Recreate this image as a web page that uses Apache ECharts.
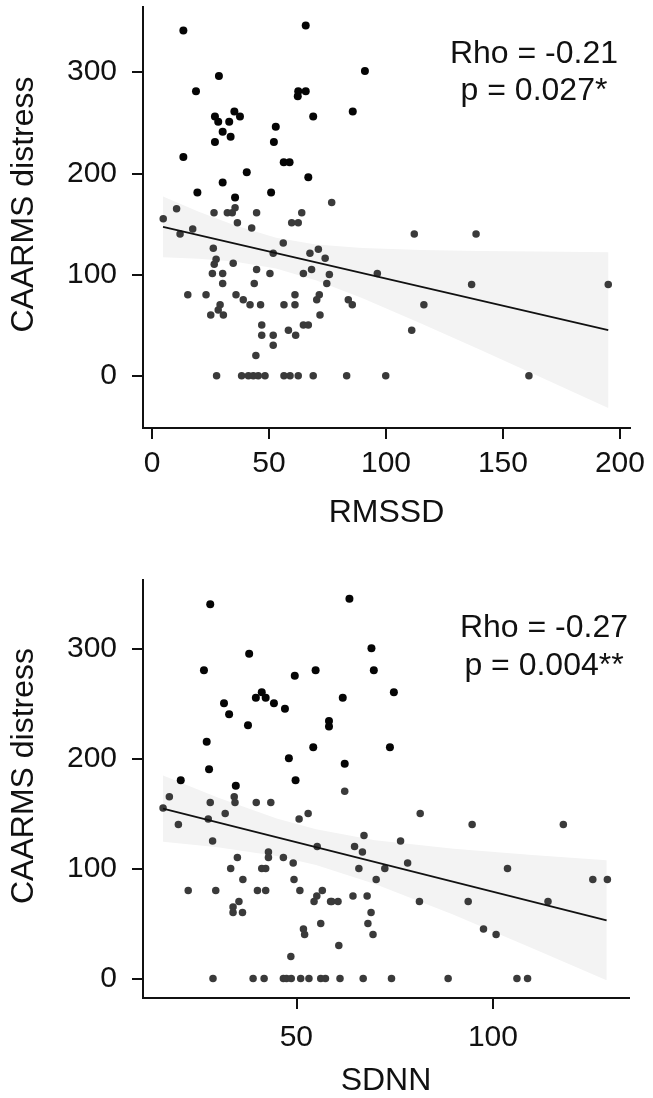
<!DOCTYPE html>
<html><head><meta charset="utf-8">
<script src="https://cdn.jsdelivr.net/npm/echarts@6/dist/echarts.min.js"></script>
<style>html,body{margin:0;padding:0;background:#fff}#c{width:653px;height:1098px}</style>
</head><body><div id="c"></div>
<script>
// ---- data ----
const rmssdPoints = [
  [13.4,341],[65.7,346],[28.6,296],[18.8,281],[62.3,276],[62.5,281],[65.7,281],[68.9,256],[26.9,256],
  [28.3,251],[33,251],[35.2,261],[37.6,256],[30.2,241],[33.6,236],[26.9,231],[52.9,246],[52.1,231],
  [13.4,216],[56.3,211],[58.8,211],[40.5,201],[66.8,196],[30.2,191],[19.4,181],[50.9,181],[91,301],
  [85.8,261],[35.5,176],
  [76.8,171],[10.5,165],[26.5,161],[32.2,161],[34.3,161],[35.5,166],[44.7,161],[64,161],[4.8,155],
  [12,140],[17.4,145],[36.5,151],[42.6,146],[59.7,151],[62.5,151],[56.1,131],[51.8,121],[26.2,126],
  [27.4,115],[26.6,110],[25.8,101],[30.2,101],[30.2,91],[34.7,111],[44.7,105],[50.4,101],[43.7,91],
  [67.5,121],[71.1,125],[74,116],[64.7,101],[68.2,105],[75.8,100],[74.7,91],[15.3,80],[23.1,80],
  [35.9,80],[39,75],[41.9,70],[46.4,70],[29.1,70],[28.3,65],[25.1,60],[30.5,60],[46.9,50],[46.9,40],
  [51.8,40],[51.8,30],[44.4,20],[56.4,70],[61.1,80],[61.1,70],[58.3,45],[61.4,40],[64.7,50],[66.8,50],
  [71.5,80],[70.4,75],[71.8,60],
  [27.6,0],[38.3,0],[41.2,0],[43.3,0],[45.4,0],[48.3,0],[56.4,0],[59,0],[62.5,0],[68.9,0],[83.2,0],
  [99.9,0],[161.1,0],
  [112.1,140],[138.5,140],[96.3,101],[83.9,75],[85.6,70],[116.2,70],[111,45],[136.6,90],[195,90]
];
const sdnnPoints = [
  [28.1,340],[38,295],[26.5,280],[54.9,280],[49.6,275],[41.2,260],[39.7,255],[42.2,255],[44.3,250],
  [47.1,245],[31.6,250],[32.9,240],[37.7,230],[58.3,234],[58.3,229],[27.2,215],[54.3,210],[48.1,200],
  [27.8,190],[63.5,345],[69.1,300],[69.7,280],[74.8,260],[61.8,255],[73.8,210],[62.3,195],
  [20.6,180],[49.8,180],[17.7,165],[34.6,175],[34.2,165],[34.4,160],[28.1,160],[39.8,160],[43.5,160],
  [16.1,155],[31.9,150],[27.6,145],[53,150],[50.7,145],[20,140],[28.7,125],[55.3,120],[42.9,115],
  [42.9,110],[35,110],[46.7,110],[49.2,105],[33.3,100],[41.2,100],[42.2,100],[36.4,90],[49.4,90],
  [22.5,80],[29.5,80],[40.1,80],[42.2,80],[50.9,80],[56.6,80],[55.2,75],[54.5,70],[58.7,70],[35.4,70],
  [33.9,65],[33.9,60],[36.3,60],[56.2,50],[51.8,45],[52.1,40],[48.6,20],
  [28.8,0],[39,0],[41.8,0],[46.7,0],[47.5,0],[48.7,0],[51.1,0],[53.2,0],[56.2,0],[57.4,0],[61.1,0],
  [67,0],[74.2,0],[88.6,0],[106.1,0],[108.8,0],
  [62.3,170],[81.5,150],[94.7,140],[117.9,140],[67.2,130],[64.8,120],[66.8,115],[76.5,125],[65.9,100],
  [72.5,100],[78.3,105],[103.7,100],[70.3,90],[125.4,90],[129.1,90],[59,70],[60.6,70],[64.4,75],
  [68,75],[81.3,70],[93.7,70],[114,70],[69,60],[68.2,50],[69.5,40],[97.6,45],[100.8,40],[60.8,30]
];
const rmssdFitX = [4.7, 195];
const rmssdFitY = [147, 45];
const rmssdBandX = [4.7, 20, 35, 53, 70, 90, 115, 140, 165, 195];
const rmssdBandLow = [117, 115.5, 112.8, 105.9, 94.4, 76.5, 51.6, 25.8, -0.4, -32];
const rmssdBandHigh = [177, 162.1, 148.8, 136.3, 129.6, 126.1, 124.2, 123.2, 122.6, 122];
const sdnnFitX = [16.1, 128.9];
const sdnnFitY = [154.3, 52.9];
const sdnnBandX = [16.1, 30, 45, 55, 70, 90, 110, 128.9];
const sdnnBandLow = [124.3, 119.2, 111.3, 103.1, 85.9, 57.9, 27.6, -1.6];
const sdnnBandHigh = [184.3, 164.4, 145.3, 135.5, 125.7, 117.9, 112.2, 107.4];
const rmssdTicks = [0, 50, 100, 150, 200];
const sdnnTicks = [50, 100];
const distressTicks = [0, 100, 200, 300];
const xNames = ['RMSSD', 'SDNN'];
const yName = 'CAARMS distress';
const annotations = [['Rho = -0.21', 'p = 0.027*'], ['Rho = -0.27', 'p = 0.004**']];

// ---- chart ----
const FONT = "'Liberation Sans', Arial, Helvetica, sans-serif";
const INK = '#111';
const chart = echarts.init(document.getElementById('c'), null, {renderer: 'canvas'});

function xAxis(idx, min, max, ticks, name, margin, gap) {
  return {
    type: 'value', gridIndex: idx, min: min, max: max, name: name,
    nameLocation: 'middle', nameGap: gap,
    nameTextStyle: {fontSize: 32, fontFamily: FONT, color: INK},
    axisLine: {show: true, onZero: false, lineStyle: {color: INK, width: 2, cap: 'square'}},
    axisTick: {show: true, length: 11, customValues: ticks, lineStyle: {color: INK, width: 2}},
    axisLabel: {customValues: ticks, fontSize: 30, fontFamily: FONT, color: INK, margin: margin},
    splitLine: {show: false}
  };
}
function yAxis(idx, min, max) {
  return {
    type: 'value', gridIndex: idx, min: min, max: max, name: yName,
    nameLocation: 'middle', nameGap: 103,
    nameTextStyle: {fontSize: 32, fontFamily: FONT, color: INK, padding: [0, 0, 0, 26]},
    axisLine: {show: true, onZero: false, lineStyle: {color: INK, width: 2, cap: 'square'}},
    axisTick: {show: true, length: 11, customValues: distressTicks, lineStyle: {color: INK, width: 2}},
    axisLabel: {customValues: distressTicks, fontSize: 30, fontFamily: FONT, color: INK, margin: 26},
    splitLine: {show: false}
  };
}
function band(idx, xs, lo, hi) {
  return {
    type: 'custom', xAxisIndex: idx, yAxisIndex: idx, z: 1, silent: true,
    data: [[xs[0], lo[0]]],
    renderItem: function (params, api) {
      const pts = [];
      for (let i = 0; i < xs.length; i++) pts.push(api.coord([xs[i], hi[i]]));
      for (let i = xs.length - 1; i >= 0; i--) pts.push(api.coord([xs[i], lo[i]]));
      return {type: 'polygon', shape: {points: pts}, style: {fill: '#f3f3f3'}};
    }
  };
}
function scatter(idx, pts) {
  return {
    type: 'scatter', xAxisIndex: idx, yAxisIndex: idx, z: 2, data: pts,
    symbolSize: function (v) { return v[1] >= 175 ? 8 : 7.5; },
    itemStyle: {color: function (p) { return p.value[1] >= 175 ? '#050505' : '#3a3a3a'; }, opacity: 1}
  };
}
function fit(idx, xs, ys) {
  return {
    type: 'line', xAxisIndex: idx, yAxisIndex: idx, z: 3, symbol: 'none', silent: true,
    data: xs.map((x, i) => [x, ys[i]]),
    lineStyle: {color: INK, width: 1.8}
  };
}
const annPos = [{x: 534, y: 53.7, dy: 37.4}, {x: 544, y: 627.7, dy: 38.7}];
const graphic = [];
annotations.forEach((lines, k) => lines.forEach((t, j) => graphic.push({
  type: 'text', x: annPos[k].x, y: annPos[k].y + j * annPos[k].dy, z: 10,
  style: {text: t, fontSize: 32, fontFamily: FONT, fill: INK, align: 'center', verticalAlign: 'middle'}
})));

chart.setOption({
  backgroundColor: '#fff',
  animation: false,
  grid: [
    {left: 143, top: 7, width: 487, height: 421},
    {left: 142, top: 580, width: 487, height: 422}
  ],
  xAxis: [
    xAxis(0, -3.85, 204.3, rmssdTicks, xNames[0], 21, 69),
    xAxis(1, 11, 134.6, sdnnTicks, xNames[1], 25, 67)
  ],
  yAxis: [yAxis(0, -51.7, 364.3), yAxis(1, -17.7, 362)],
  series: [
    band(0, rmssdBandX, rmssdBandLow, rmssdBandHigh),
    scatter(0, rmssdPoints),
    fit(0, rmssdFitX, rmssdFitY),
    band(1, sdnnBandX, sdnnBandLow, sdnnBandHigh),
    scatter(1, sdnnPoints),
    fit(1, sdnnFitX, sdnnFitY)
  ],
  graphic: graphic
});
</script></body></html>
